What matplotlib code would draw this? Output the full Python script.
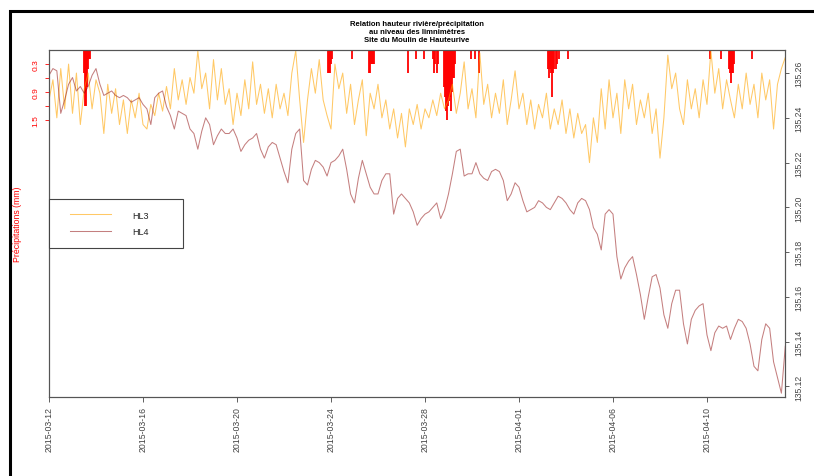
import numpy as np
import matplotlib.pyplot as plt
from matplotlib.patches import Rectangle
from matplotlib.lines import Line2D
from matplotlib.legend_handler import HandlerLine2D

plt.rcParams['font.family'] = ['Liberation Sans', 'DejaVu Sans']

# hauteurs limnimetres (m), un point toutes les 4 h depuis le 2015-03-12
hl3 = [135.248, 135.257, 135.240, 135.262, 135.244, 135.264, 135.242, 135.260, 135.237, 135.253,
       135.260, 135.244, 135.257, 135.251, 135.233, 135.255, 135.242, 135.253, 135.237, 135.248,
       135.233, 135.248, 135.240, 135.251, 135.237, 135.235, 135.246, 135.241, 135.251, 135.243,
       135.254, 135.244, 135.262, 135.248, 135.257, 135.246, 135.258, 135.251, 135.270, 135.253,
       135.260, 135.244, 135.266, 135.248, 135.262, 135.246, 135.253, 135.237, 135.251, 135.241,
       135.257, 135.244, 135.265, 135.246, 135.255, 135.242, 135.253, 135.240, 135.255, 135.244,
       135.251, 135.241, 135.260, 135.270, 135.248, 135.229, 135.248, 135.262, 135.251, 135.266,
       135.248, 135.241, 135.235, 135.264, 135.253, 135.260, 135.242, 135.255, 135.237, 135.248,
       135.257, 135.232, 135.251, 135.244, 135.255, 135.240, 135.248, 135.235, 135.244, 135.231,
       135.242, 135.227, 135.244, 135.237, 135.246, 135.235, 135.244, 135.240, 135.248, 135.241,
       135.251, 135.244, 135.248, 135.255, 135.242, 135.251, 135.265, 135.244, 135.253, 135.240,
       135.269, 135.246, 135.255, 135.240, 135.251, 135.242, 135.257, 135.237, 135.248, 135.261,
       135.244, 135.251, 135.237, 135.248, 135.235, 135.246, 135.240, 135.251, 135.235, 135.244,
       135.237, 135.248, 135.233, 135.244, 135.231, 135.242, 135.233, 135.237, 135.220, 135.240,
       135.229, 135.253, 135.235, 135.257, 135.240, 135.251, 135.233, 135.257, 135.244, 135.255,
       135.237, 135.248, 135.240, 135.251, 135.233, 135.244, 135.222, 135.240, 135.268, 135.253,
       135.260, 135.244, 135.237, 135.257, 135.244, 135.253, 135.240, 135.257, 135.246, 135.270,
       135.251, 135.262, 135.244, 135.257, 135.248, 135.240, 135.255, 135.244, 135.260, 135.246,
       135.255, 135.240, 135.260, 135.248, 135.257, 135.235, 135.255, 135.262, 135.267]

hl4 = [135.259, 135.262, 135.261, 135.242, 135.248, 135.255, 135.258, 135.252, 135.254, 135.251,
       135.254, 135.259, 135.262, 135.255, 135.250, 135.251, 135.252, 135.250, 135.249, 135.250,
       135.249, 135.247, 135.248, 135.249, 135.246, 135.244, 135.237, 135.249, 135.251, 135.252,
       135.245, 135.241, 135.235, 135.243, 135.242, 135.241, 135.235, 135.233, 135.226, 135.234,
       135.240, 135.237, 135.228, 135.232, 135.235, 135.233, 135.233, 135.235, 135.231, 135.225,
       135.228, 135.230, 135.231, 135.233, 135.226, 135.222, 135.227, 135.229, 135.228, 135.222,
       135.216, 135.211, 135.226, 135.233, 135.235, 135.212, 135.210, 135.217, 135.221, 135.220,
       135.218, 135.214, 135.220, 135.221, 135.223, 135.226, 135.217, 135.206, 135.202, 135.213,
       135.221, 135.215, 135.209, 135.206, 135.206, 135.212, 135.215, 135.215, 135.197, 135.204,
       135.206, 135.204, 135.202, 135.198, 135.192, 135.195, 135.197, 135.198, 135.200, 135.202,
       135.195, 135.199, 135.206, 135.215, 135.225, 135.226, 135.214, 135.215, 135.215, 135.220,
       135.215, 135.213, 135.212, 135.216, 135.217, 135.216, 135.212, 135.203, 135.206, 135.211,
       135.209, 135.203, 135.198, 135.199, 135.200, 135.203, 135.202, 135.200, 135.199, 135.202,
       135.205, 135.204, 135.202, 135.199, 135.197, 135.202, 135.204, 135.203, 135.199, 135.191,
       135.188, 135.181, 135.197, 135.199, 135.197, 135.178, 135.168, 135.173, 135.176, 135.178,
       135.170, 135.161, 135.150, 135.160, 135.169, 135.170, 135.164, 135.152, 135.146, 135.157,
       135.163, 135.163, 135.148, 135.139, 135.150, 135.154, 135.156, 135.157, 135.143, 135.136,
       135.144, 135.147, 135.146, 135.147, 135.141, 135.146, 135.150, 135.149, 135.146, 135.139,
       135.129, 135.127, 135.141, 135.148, 135.146, 135.131, 135.124, 135.117, 135.138]

# precipitations (jours depuis le 2015-03-12, mm)
pluie_jour = [1.49, 1.53, 1.57, 1.62, 1.66, 1.70, 1.74, 11.87, 11.91, 11.96, 12.00, 12.04,
              12.89, 13.62, 13.66, 13.70, 13.74, 13.79, 13.83, 15.28, 15.62, 15.96,
              16.34, 16.38, 16.43, 16.51, 16.55, 16.81, 16.85, 16.89, 16.94, 16.98, 17.02,
              17.06, 17.11, 17.15, 17.19, 17.23, 17.28, 17.96, 18.13, 18.30,
              21.23, 21.28, 21.32, 21.36, 21.40, 21.45, 21.49, 21.57, 21.62, 21.70, 22.09,
              28.13, 28.60, 28.94, 28.98, 29.02, 29.06, 29.11, 29.15, 29.91]
pluie_mm = [0.5, 1.2, 1.2, 0.8, 0.4, 0.2, 0.2, 0.5, 0.5, 0.5, 0.3, 0.2,
            0.2, 0.5, 0.5, 0.3, 0.3, 0.3, 0.3, 0.5, 0.2, 0.2,
            0.2, 0.5, 0.3, 0.5, 0.3, 0.8, 1.0, 1.3, 1.5, 1.2, 1.1,
            1.0, 1.3, 0.9, 0.6, 0.6, 0.3, 0.2, 0.2, 0.5,
            0.4, 0.6, 0.4, 0.5, 1.0, 0.5, 0.4, 0.4, 0.3, 0.2, 0.2,
            0.2, 0.2, 0.4, 0.5, 0.7, 0.5, 0.5, 0.3, 0.2]

date_ticks = [0, 4, 8, 12, 16, 20, 24, 28]
date_labels = ['2015-03-12', '2015-03-16', '2015-03-20', '2015-03-24',
               '2015-03-28', '2015-04-01', '2015-04-06', '2015-04-10']

jours = np.arange(len(hl3)) / 6.0

W, H = 814, 477
fig = plt.figure(figsize=(W / 100, H / 100), dpi=100)
fig.patches.append(Rectangle((10 / W, -0.2), 1.2, 1.2 - 12 / H, transform=fig.transFigure,
                             fill=False, ec='black', lw=2.2))

ax = fig.add_axes([49 / W, 1 - 398 / H, 736 / W, 347 / H])
ax.vlines(pluie_jour, 0, pluie_mm, color='red', lw=1.3)
ax.set_xlim(0, 31.32)
ax.set_ylim(7.43, 0)
ax.set_yticks([0.3, 0.6, 0.9, 1.2, 1.5])
ax.set_yticklabels(['0.3', '', '0.9', '', '1.5'], rotation=90, va='center')
ax.tick_params(axis='y', colors='red', labelsize=6, length=3, width=0.6, pad=4)
ax.set_ylabel('Précipitations (mm)', color='red', fontsize=6.3)
ax.yaxis.set_label_coords(-0.037, 0.5)
ax.set_xticks(date_ticks)
ax.set_xticklabels(date_labels, rotation=90)
ax.tick_params(axis='x', colors='#444444', labelsize=6.3, length=3.5, width=0.6, pad=3)
for s in ax.spines.values():
    s.set_color('#555555')
    s.set_linewidth(0.8)

ax2 = ax.twinx()
ax2.plot(jours, hl3, color='#FFA500', alpha=0.6, lw=0.75, label='HL3')
ax2.plot(jours, hl4, color='#8B0000', alpha=0.5, lw=0.75, label='HL4')
ax2.set_ylim(135.1153, 135.2703)
ax2.set_yticks([135.12, 135.14, 135.16, 135.18, 135.20, 135.22, 135.24, 135.26])
ax2.set_yticklabels(['135.12', '135.14', '135.16', '135.18', '135.20', '135.22', '135.24', '135.26'],
                    rotation=90, va='center')
ax2.tick_params(axis='y', colors='#444444', labelsize=6.2, length=3, width=0.6, pad=4)
for s in ax2.spines.values():
    s.set_color('#555555')
    s.set_linewidth(0.8)

leg = ax2.legend(loc='upper left', bbox_to_anchor=(0, 0.432, 0.182, 0.139), mode='expand',
                 borderaxespad=0, fontsize=6.5, handlelength=6.65, handletextpad=1.27,
                 borderpad=1.3, labelspacing=0.85, fancybox=False, framealpha=1,
                 handler_map={Line2D: HandlerLine2D(marker_pad=1.05, numpoints=2)})
leg.get_frame().set_edgecolor('#444444')
leg.get_frame().set_linewidth(0.8)
for t in leg.get_texts():
    t.set_color('#222222')

fig.text(417 / W, 1 - 20.5 / H,
         'Relation hauteur rivière/précipitation\nau niveau des limnimètres\nSite du Moulin de Hauteurive',
         ha='center', va='top', fontsize=5.5, fontweight='bold', linespacing=1.3)

fig.savefig('out.png', dpi=100)
